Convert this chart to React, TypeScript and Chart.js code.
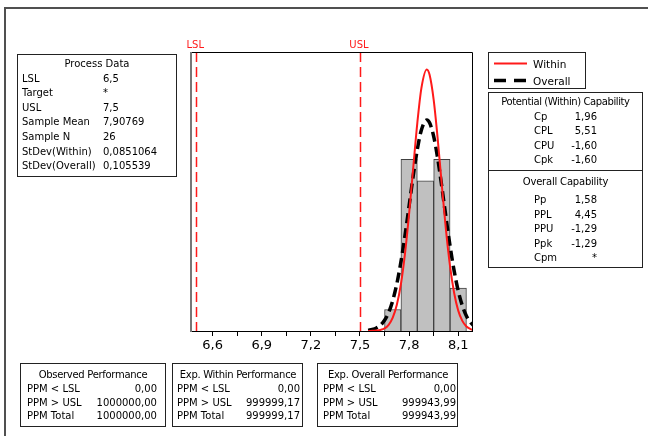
import React, { useEffect, useRef } from 'react';
import { Chart, registerables } from 'chart.js';

Chart.register(...registerables);

// ---------- data ----------
const binCenters = [7.7, 7.8, 7.9, 8.0, 8.1];
const binCounts = [1, 8, 7, 8, 2];

const curveX = [7.55, 7.575, 7.6, 7.625, 7.65, 7.675, 7.7, 7.725, 7.75, 7.775, 7.8, 7.825, 7.85, 7.875, 7.908, 7.925, 7.95, 7.975, 8.0, 8.025, 8.05, 8.075, 8.1, 8.125, 8.15, 8.175, 8.2];
const withinY = [0.0, 0.01, 0.02, 0.05, 0.12, 0.29, 0.62, 1.22, 2.19, 3.62, 5.47, 7.6, 9.69, 11.32, 12.19, 11.94, 10.77, 8.92, 6.77, 4.71, 3.01, 1.77, 0.95, 0.47, 0.21, 0.09, 0.03];
const overallY = [0.03, 0.07, 0.14, 0.27, 0.5, 0.86, 1.42, 2.2, 3.22, 4.46, 5.84, 7.23, 8.46, 9.37, 9.83, 9.7, 9.07, 8.02, 6.7, 5.3, 3.96, 2.8, 1.87, 1.18, 0.7, 0.4, 0.21];

const specLimits = [6.5, 7.5];
const specLabels = ['LSL', 'USL'];

const tickValues = [6.6, 6.75, 6.9, 7.05, 7.2, 7.35, 7.5, 7.65, 7.8, 7.95, 8.1];
const tickLabels = ['6,6', '', '6,9', '', '7,2', '', '7,5', '', '7,8', '', '8,1'];
const xMin = 6.468;
const xMax = 8.184;
const yMax = 13;

const legendLabels = ['Within', 'Overall'];

const processTitle = 'Process Data';
const processLabels = ['LSL', 'Target', 'USL', 'Sample Mean', 'Sample N', 'StDev(Within)', 'StDev(Overall)'];
const processValues = ['6,5', '*', '7,5', '7,90769', '26', '0,0851064', '0,105539'];

const withinCapTitle = 'Potential (Within) Capability';
const withinCapLabels = ['Cp', 'CPL', 'CPU', 'Cpk'];
const withinCapValues = ['1,96', '5,51', '-1,60', '-1,60'];
const overallCapTitle = 'Overall Capability';
const overallCapLabels = ['Pp', 'PPL', 'PPU', 'Ppk', 'Cpm'];
const overallCapValues = ['1,58', '4,45', '-1,29', '-1,29', '*'];

const perfLabels = ['PPM < LSL', 'PPM > USL', 'PPM Total'];
const observedTitle = 'Observed Performance';
const observedPerf = ['0,00', '1000000,00', '1000000,00'];
const withinPerfTitle = 'Exp. Within Performance';
const withinPerf = ['0,00', '999999,17', '999999,17'];
const overallPerfTitle = 'Exp. Overall Performance';
const overallPerf = ['0,00', '999943,99', '999943,99'];

// ---------- styling ----------
const FONT = '"DejaVu Sans", Verdana, sans-serif';
const RED = '#ff1a1a';

const overlayPlugin = {
  id: 'overlay',
  afterDatasetsDraw(chart: any) {
    const { ctx, chartArea: a } = chart;
    const x = chart.scales.x;
    ctx.save();
    ctx.strokeStyle = RED;
    ctx.lineWidth = 1.5;
    ctx.setLineDash([10, 5]);
    specLimits.forEach((v) => {
      const px = Math.round(x.getPixelForValue(v)) + 0.5;
      ctx.beginPath();
      ctx.moveTo(px, a.top);
      ctx.lineTo(px, a.bottom);
      ctx.stroke();
    });
    ctx.setLineDash([]);
    ctx.fillStyle = RED;
    ctx.font = '10px ' + FONT;
    ctx.textAlign = 'center';
    ctx.textBaseline = 'middle';
    specLimits.forEach((v, i) => {
      const px = x.getPixelForValue(v);
      ctx.fillText(specLabels[i], px - 1, a.top - 7);
    });
    ctx.strokeStyle = '#000';
    ctx.lineWidth = 1;
    ctx.beginPath();
    ctx.moveTo(a.left, a.top + 0.5);
    ctx.lineTo(a.right + 0.5, a.top + 0.5);
    ctx.lineTo(a.right + 0.5, a.bottom);
    ctx.stroke();
    ctx.strokeStyle = '#777';
    ctx.lineWidth = 2;
    ctx.beginPath();
    ctx.moveTo(a.left, a.top);
    ctx.lineTo(a.left, a.bottom + 1);
    ctx.stroke();
    ctx.restore();
  },
};

function T({ x, y, children, align = 'left', size = 10, ls = 0, color = '#000' }: any) {
  const style: any = {
    position: 'absolute',
    top: y - 6,
    lineHeight: '12px',
    fontSize: size,
    letterSpacing: ls,
    whiteSpace: 'nowrap',
    fontFamily: FONT,
    color,
  };
  if (align === 'left') style.left = x;
  else if (align === 'right') style.right = 648 - x;
  else {
    style.left = x;
    style.transform = 'translateX(-50%)';
  }
  return <div style={style}>{children}</div>;
}

function Box({ l, t, w, h }: any) {
  return (
    <div
      style={{
        position: 'absolute',
        left: l,
        top: t,
        width: w,
        height: h,
        border: '1px solid #222',
        boxSizing: 'border-box',
      }}
    />
  );
}

function PerfBox({ l, w, title, titleX, labelX, valueX, values }: any) {
  return (
    <>
      <Box l={l} t={363} w={w} h={64} />
      <T x={titleX} y={375} align="center" ls={-0.3}>{title}</T>
      {perfLabels.map((lab, i) => (
        <React.Fragment key={i}>
          <T x={labelX} y={389 + i * 13.6}>{lab}</T>
          <T x={valueX} y={389 + i * 13.6} align="right">{values[i]}</T>
        </React.Fragment>
      ))}
    </>
  );
}

export default function App() {
  const ref = useRef<HTMLCanvasElement>(null);

  useEffect(() => {
    if (!ref.current) return;
    const chart = new Chart(ref.current, {
      type: 'bar',
      data: {
        datasets: [
          {
            type: 'line',
            label: legendLabels[0],
            data: curveX.map((x, i) => ({ x, y: withinY[i] })),
            borderColor: RED,
            borderWidth: 2,
            pointRadius: 0,
            fill: false,
            cubicInterpolationMode: 'monotone',
            order: 0,
          } as any,
          {
            type: 'line',
            label: legendLabels[1],
            data: curveX.map((x, i) => ({ x, y: overallY[i] })),
            borderColor: '#000',
            borderWidth: 3.5,
            borderDash: [10, 5],
            pointRadius: 0,
            fill: false,
            cubicInterpolationMode: 'monotone',
            order: 1,
          } as any,
          {
            type: 'bar',
            label: 'Histogram',
            data: binCenters.map((x, i) => ({ x, y: binCounts[i] })),
            backgroundColor: '#c0c0c0',
            borderColor: '#404040',
            borderWidth: 1,
            barPercentage: 1,
            categoryPercentage: 1,
            order: 2,
          } as any,
        ],
      },
      options: {
        animation: false,
        responsive: false,
        maintainAspectRatio: false,
        layout: { padding: { left: 191, right: 176, top: 52, bottom: 0 } },
        plugins: { legend: { display: false }, tooltip: { enabled: false } },
        scales: {
          x: {
            type: 'linear',
            min: xMin,
            max: xMax,
            offset: false,
            afterBuildTicks: (scale: any) => {
              scale.ticks = tickValues.map((v) => ({ value: v }));
            },
            afterFit: (scale: any) => {
              scale.height = 105;
            },
            grid: {
              display: true,
              drawOnChartArea: false,
              drawTicks: true,
              tickLength: 5,
              color: '#000',
              offset: false,
            },
            border: { display: true, color: '#000', width: 1 },
            ticks: {
              autoSkip: false,
              maxRotation: 0,
              minRotation: 0,
              padding: 2,
              color: '#000',
              font: { family: FONT, size: 13 },
              callback: (_v: any, i: number) => tickLabels[i],
            },
          },
          y: {
            display: false,
            min: 0,
            max: yMax,
          },
        },
      } as any,
      plugins: [overlayPlugin],
    });
    return () => chart.destroy();
  }, []);

  return (
    <div
      style={{
        position: 'fixed',
        left: 0,
        top: 0,
        width: 648,
        height: 436,
        background: '#fff',
        overflow: 'hidden',
      }}
    >
      <div
        style={{
          position: 'absolute',
          left: 4,
          top: 7,
          width: 700,
          height: 500,
          borderTop: '2px solid #505050',
          borderLeft: '2px solid #505050',
        }}
      />
      <canvas
        ref={ref}
        width={648}
        height={436}
        style={{ position: 'absolute', left: 0, top: 0, width: 648, height: 436 }}
      />

      {/* Process Data */}
      <Box l={17} t={54} w={160} h={123} />
      <T x={97} y={63.5} align="center">{processTitle}</T>
      {processLabels.map((lab, i) => (
        <React.Fragment key={i}>
          <T x={22} y={78.5 + i * 14.6}>{lab}</T>
          <T x={103} y={78.5 + i * 14.6}>{processValues[i]}</T>
        </React.Fragment>
      ))}

      {/* Legend */}
      <Box l={488} t={52} w={98} h={37} />
      <svg
        width={648}
        height={436}
        style={{ position: 'absolute', left: 0, top: 0, pointerEvents: 'none' }}
      >
        <line x1={494} y1={63.5} x2={527} y2={63.5} stroke={RED} strokeWidth={2} />
        <line x1={494} y1={80.5} x2={527} y2={80.5} stroke="#000" strokeWidth={3.5} strokeDasharray="12 8" />
      </svg>
      <T x={533} y={63.5} size={10.5}>{legendLabels[0]}</T>
      <T x={533} y={80.5} size={10.5}>{legendLabels[1]}</T>

      {/* Capability */}
      <Box l={488} t={92} w={155} h={176} />
      <div style={{ position: 'absolute', left: 488, top: 170, width: 155, height: 1, background: '#222' }} />
      <T x={565.5} y={102} align="center" ls={-0.4}>{withinCapTitle}</T>
      {withinCapLabels.map((lab, i) => (
        <React.Fragment key={i}>
          <T x={534} y={116.5 + i * 14.6}>{lab}</T>
          <T x={597} y={116.5 + i * 14.6} align="right">{withinCapValues[i]}</T>
        </React.Fragment>
      ))}
      <T x={565.5} y={182} align="center" ls={-0.2}>{overallCapTitle}</T>
      {overallCapLabels.map((lab, i) => (
        <React.Fragment key={i}>
          <T x={534} y={200 + i * 14.6}>{lab}</T>
          <T x={597} y={200 + i * 14.6} align="right">{overallCapValues[i]}</T>
        </React.Fragment>
      ))}

      {/* Performance */}
      <PerfBox l={20} w={146} title={observedTitle} titleX={93} labelX={27} valueX={157} values={observedPerf} />
      <PerfBox l={172} w={131} title={withinPerfTitle} titleX={238} labelX={177} valueX={300} values={withinPerf} />
      <PerfBox l={317} w={141} title={overallPerfTitle} titleX={388} labelX={323} valueX={456} values={overallPerf} />
    </div>
  );
}
